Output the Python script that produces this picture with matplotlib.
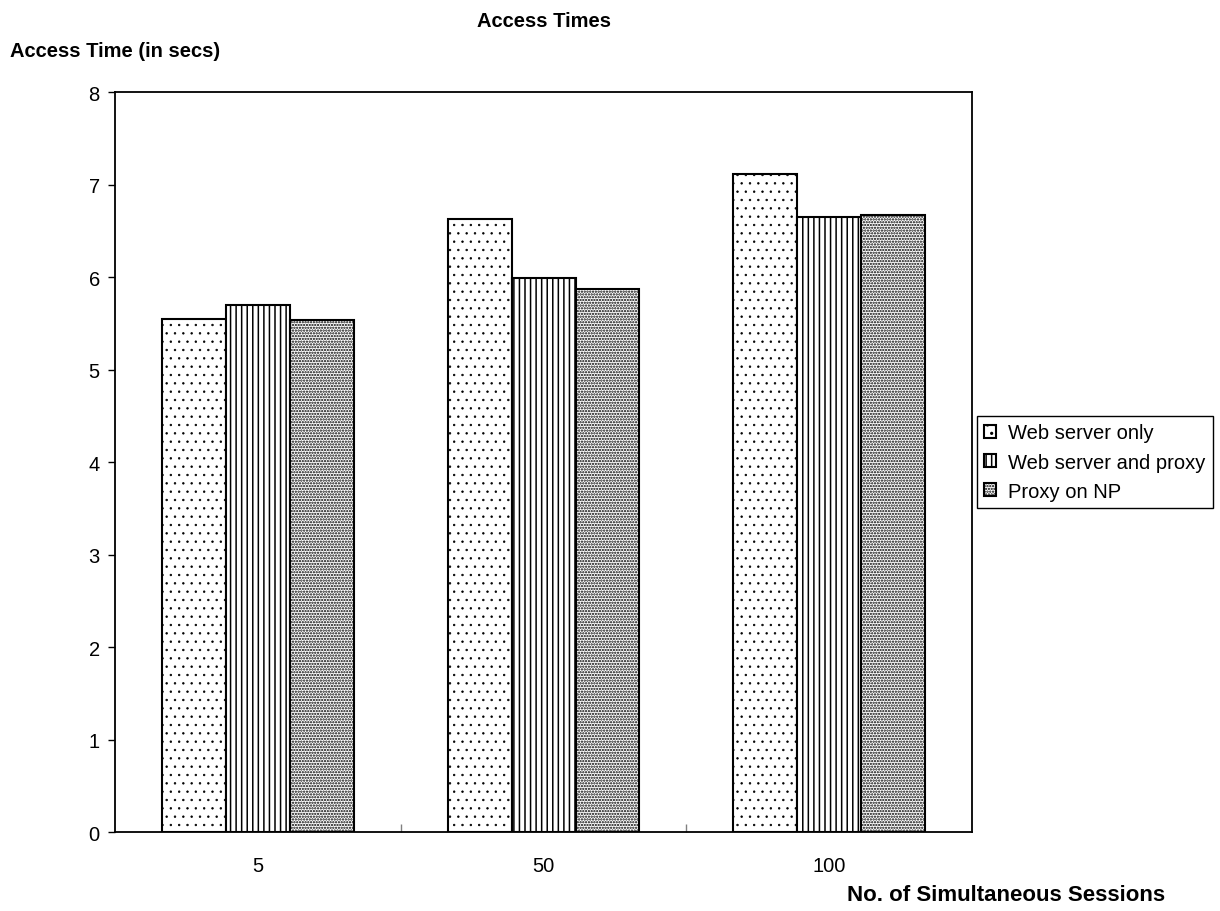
import numpy as np
import matplotlib.pyplot as plt

plt.rcParams['font.family'] = ['Liberation Sans', 'DejaVu Sans']
plt.rcParams['hatch.linewidth'] = 1.1

# Access times (secs) per number of simultaneous sessions
sessions = ['5', '50', '100']
web_only = [5.55, 6.63, 7.11]
web_and_proxy = [5.70, 5.99, 6.65]
proxy_on_np = [5.54, 5.87, 6.67]

series = [('Web server only', web_only, '..', 0.5),
          ('Web server and proxy', web_and_proxy, '|||', 1.1),
          ('Proxy on NP', proxy_on_np, '......', 1.1)]

fig = plt.figure(figsize=(12.2, 9.12), dpi=100)
ax = fig.add_axes([0.0943, 0.0866, 0.7024, 0.8114])

x = np.arange(len(sessions))
width = 0.224
for i, (name, vals, hatch, hlw) in enumerate(series):
    with plt.rc_context({'hatch.linewidth': hlw}):
        ax.bar(x + (i - 1) * width, vals, width, label=name, color='white',
               edgecolor='black', linewidth=1.5, hatch=hatch)

ax.set_xlim(-0.5, 2.5)
ax.set_ylim(0, 8)
ax.set_yticks(range(0, 9))

# category labels centred, tick marks between categories
ax.set_xticks([0.5, 1.5])
ax.set_xticklabels([])
ax.set_xticks(x, minor=True)
ax.set_xticklabels(sessions, minor=True)
ax.tick_params(axis='x', which='major', direction='in', length=6, width=1, color='gray')
ax.tick_params(axis='x', which='minor', length=0, pad=17, labelsize=14.5)
ax.tick_params(axis='y', direction='out', length=5, width=1, pad=6, labelsize=14.5)

for s in ax.spines.values():
    s.set_linewidth(1.3)

fig.text(0.446, 0.976, 'Access Times', ha='center', va='center',
         fontsize=14.5, fontweight='bold')
fig.text(0.008, 0.943, 'Access Time (in secs)', ha='left', va='center',
         fontsize=14.5, fontweight='bold')
fig.text(0.955, 0.018, 'No. of Simultaneous Sessions', ha='right', va='center',
         fontsize=16, fontweight='bold')

leg = ax.legend(loc='center left', bbox_to_anchor=(1.006, 0.5), fontsize=14.5,
                frameon=True, fancybox=False, framealpha=1, edgecolor='black',
                handlelength=0.6, handleheight=0.6, handletextpad=0.6,
                borderpad=0.35, labelspacing=0.5, borderaxespad=0)
leg.get_frame().set_linewidth(1.0)

fig.savefig('out.png', dpi=100)
